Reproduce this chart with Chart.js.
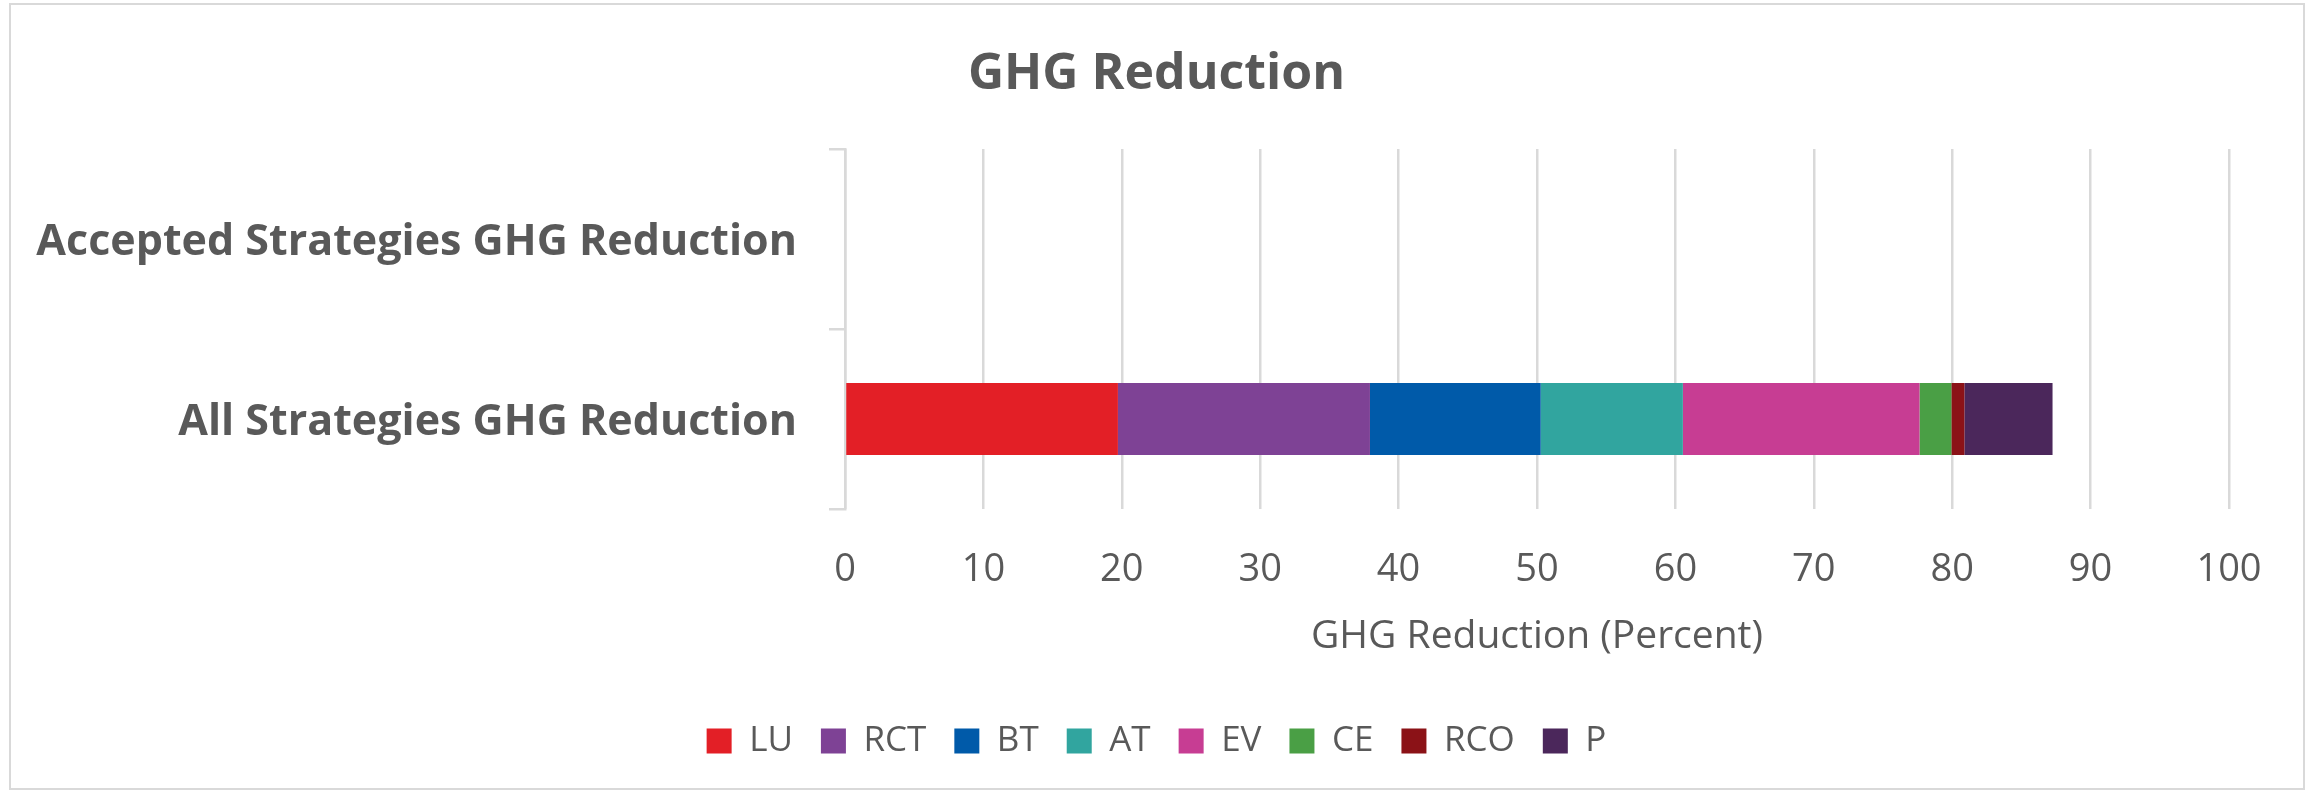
<!DOCTYPE html>
<html>
<head>
<meta charset="utf-8">
<script src="https://cdn.jsdelivr.net/npm/chart.js@4/dist/chart.umd.min.js"></script>
<style>
  html, body { margin: 0; padding: 0; background: #fff; }
  #wrap { position: relative; width: 2313px; height: 794px; }
  #frame { position: absolute; left: 9px; top: 3px; width: 2296px; height: 787px;
           box-sizing: border-box; border: 2px solid #d9d9d9; pointer-events: none; }
</style>
</head>
<body>
<div id="wrap">
  <canvas id="ghg-chart" width="2313" height="794"></canvas>
  <div id="frame"></div>
</div>
<script>
// rows (top to bottom)
const categories = ['Accepted Strategies GHG Reduction', 'All Strategies GHG Reduction'];
// strategy groups, in stacking order
const strategies = ['LU', 'RCT', 'BT', 'AT', 'EV', 'CE', 'RCO', 'P'];
const colors = ['#e31f26', '#7e4295', '#005aa9', '#31a59f', '#c73d93', '#4a9f45', '#8b1217', '#4b275b'];
// percent reduction per strategy: accepted row, all row
const acceptedValues = [0, 0, 0, 0, 0, 0, 0, 0];
const allValues = [19.72, 18.21, 12.34, 10.27, 17.10, 2.30, 0.94, 6.37];
const xTicks = [0, 10, 20, 30, 40, 50, 60, 70, 80, 90, 100];

const textColor = '#595959';
const gridColor = '#d9d9d9';
const fontFamily = "'Open Sans', 'DejaVu Sans', sans-serif";

const datasets = strategies.map((name, i) => ({
  label: name,
  data: [acceptedValues[i], allValues[i]],
  backgroundColor: colors[i],
  borderWidth: 0,
  categoryPercentage: 1,
  barPercentage: 0.4
}));

const ctx = document.getElementById('ghg-chart');
new Chart(ctx, {
  type: 'bar',
  data: { labels: categories, datasets: datasets },
  options: {
    indexAxis: 'y',
    responsive: false,
    animation: false,
    layout: { padding: { left: 0, right: 0, top: 0, bottom: 25.5 } },
    scales: {
      x: {
        stacked: true,
        min: 0,
        max: 100,
        afterBuildTicks: (scale) => { scale.ticks = xTicks.map(v => ({ value: v })); },
        afterFit: (scale) => { scale.height = 186.5; },
        grid: { color: gridColor, lineWidth: 2.5, drawTicks: false },
        border: { display: false },
        ticks: { color: textColor, padding: 38, font: { family: fontFamily, size: 38 } },
        title: {
          display: true,
          text: 'GHG Reduction (Percent)',
          color: textColor,
          font: { family: fontFamily, size: 39 },
          padding: { top: 0, bottom: 35 }
        }
      },
      y: {
        stacked: true,
        afterFit: (scale) => { scale.width = 845; },
        grid: { color: gridColor, lineWidth: 2.5, drawOnChartArea: false, drawTicks: true, tickLength: 16 },
        border: { display: true, color: gridColor, width: 2.5 },
        ticks: { color: textColor, padding: 32, labelOffset: 4, font: { family: fontFamily, size: 43, weight: 'bold' } }
      },
      // empty space on the right of the plot
      rightPad: {
        type: 'linear',
        position: 'right',
        afterFit: (scale) => { scale.width = 84; },
        grid: { display: false },
        border: { display: false },
        ticks: { display: false }
      }
    },
    plugins: {
      title: {
        display: true,
        text: 'GHG Reduction',
        color: textColor,
        font: { family: fontFamily, size: 50, weight: 'bold' },
        padding: { top: 45, bottom: 44 }
      },
      legend: {
        position: 'bottom',
        labels: {
          color: textColor,
          boxWidth: 25,
          boxHeight: 25,
          padding: 28,
          font: { family: fontFamily, size: 35 }
        }
      },
      tooltip: { enabled: false }
    }
  }
});
</script>
</body>
</html>
